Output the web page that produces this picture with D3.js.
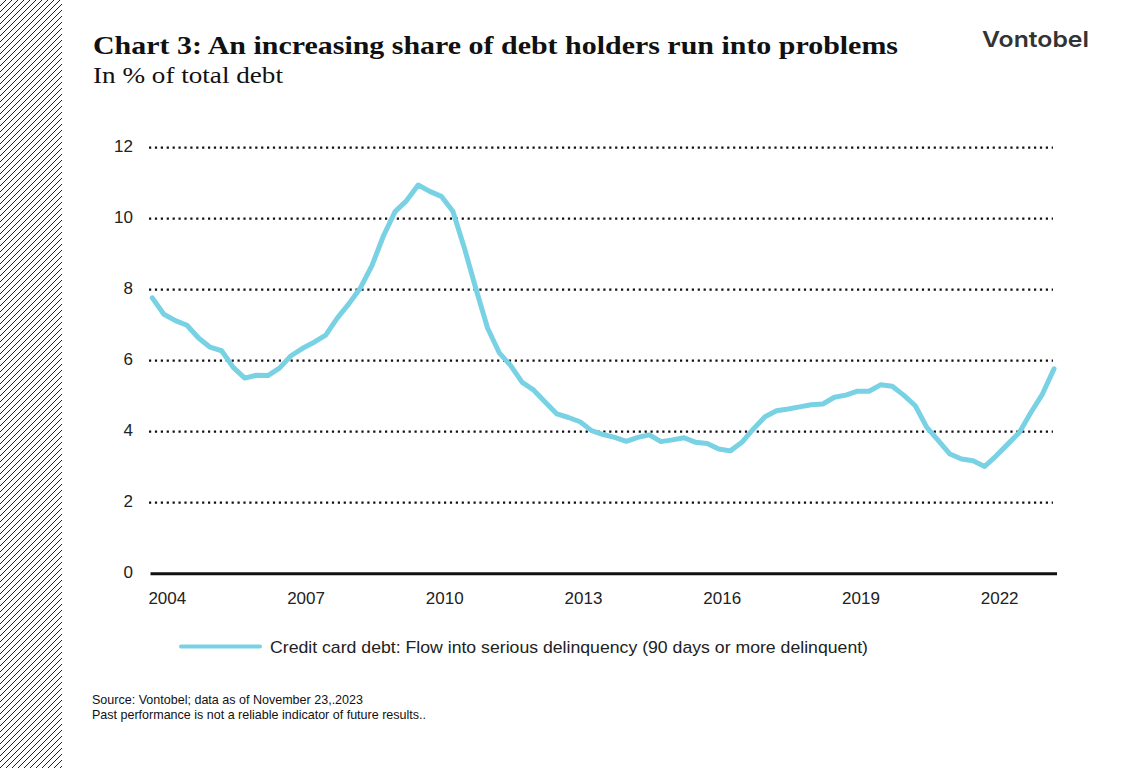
<!DOCTYPE html>
<html>
<head>
<meta charset="utf-8">
<script src="https://cdn.jsdelivr.net/npm/d3@7"></script>
<style>
  body { margin: 0; background: #fff; }
  svg { display: block; }
</style>
</head>
<body>
<div id="chart-area"></div>
<script>
// quarterly values, 2004 Q1 .. 2023 Q3
const startYear = 2004;
const delinquency = [
    7.77, 7.31, 7.13, 7.00, 6.64, 6.38, 6.28, 5.81, 5.51, 5.59,
    5.58, 5.79, 6.14, 6.35, 6.52, 6.72, 7.20, 7.60, 8.05, 8.68,
    9.52, 10.20, 10.51, 10.95, 10.77, 10.63, 10.21, 9.17, 8.02, 6.92,
    6.23, 5.86, 5.39, 5.17, 4.83, 4.50, 4.40, 4.28, 4.03, 3.92,
    3.84, 3.73, 3.84, 3.91, 3.72, 3.77, 3.83, 3.70, 3.67, 3.51,
    3.46, 3.70, 4.08, 4.42, 4.59, 4.64, 4.70, 4.76, 4.78, 4.97,
    5.03, 5.14, 5.14, 5.32, 5.28, 5.03, 4.73, 4.12, 3.75, 3.37,
    3.23, 3.18, 3.02, 3.32, 3.65, 3.98, 4.54, 5.06, 5.77
];
const yearLabels = [2004, 2007, 2010, 2013, 2016, 2019, 2022];
const yTicks = [0, 2, 4, 6, 8, 10, 12];
const seriesName = "Credit card debt: Flow into serious delinquency (90 days or more delinquent)";

const W = 1122, H = 768;
const lineColor = "#78d2e4";

const svg = d3.select("#chart-area").append("svg")
    .attr("width", W)
    .attr("height", H);

svg.append("rect").attr("width", W).attr("height", H).attr("fill", "#fff");

// hatched strip on the left
const defs = svg.append("defs");
const pat = defs.append("pattern")
    .attr("id", "hatch")
    .attr("patternUnits", "userSpaceOnUse")
    .attr("width", 6)
    .attr("height", 6);
pat.append("path")
    .attr("d", "M-1,7 L7,-1 M-1,1 L1,-1 M5,7 L7,5")
    .attr("stroke", "#222")
    .attr("stroke-width", 1);
svg.append("rect")
    .attr("x", 0).attr("y", 0)
    .attr("width", 62).attr("height", H)
    .attr("fill", "url(#hatch)");

// titles
svg.append("text")
    .attr("x", 93).attr("y", 54)
    .attr("font-family", "'Liberation Serif', 'DejaVu Serif', serif")
    .attr("font-weight", "bold")
    .attr("font-size", 26)
    .attr("fill", "#111")
    .attr("textLength", 805)
    .attr("lengthAdjust", "spacingAndGlyphs")
    .text("Chart 3: An increasing share of debt holders run into problems");

svg.append("text")
    .attr("x", 93).attr("y", 83)
    .attr("font-family", "'Liberation Serif', 'DejaVu Serif', serif")
    .attr("font-size", 23)
    .attr("fill", "#111")
    .attr("textLength", 190)
    .attr("lengthAdjust", "spacingAndGlyphs")
    .text("In % of total debt");

svg.append("text")
    .attr("x", 982).attr("y", 47)
    .attr("font-family", "Inter, 'Open Sans', sans-serif")
    .attr("font-weight", 600)
    .attr("font-size", 22)
    .attr("fill", "#333")
    .attr("textLength", 107)
    .attr("lengthAdjust", "spacingAndGlyphs")
    .text("Vontobel");

// scales
const x = d3.scaleLinear()
    .domain([0, delinquency.length - 1])
    .range([152.3, 1054]);

const y = d3.scaleLinear()
    .domain([0, 12])
    .range([573.7, 147.7]);

// dotted gridlines
svg.selectAll(".grid")
    .data(yTicks.filter((d) => d > 0))
    .enter()
    .append("line")
    .attr("class", "grid")
    .attr("x1", 149)
    .attr("x2", 1053)
    .attr("y1", (d) => y(d))
    .attr("y2", (d) => y(d))
    .attr("stroke", "#111")
    .attr("stroke-width", 2.2)
    .attr("stroke-dasharray", "2.2,3.7");

// y labels
svg.selectAll(".ylab")
    .data(yTicks)
    .enter()
    .append("text")
    .attr("class", "ylab")
    .attr("x", 133)
    .attr("y", (d) => y(d) - 2)
    .attr("dy", "0.35em")
    .attr("text-anchor", "end")
    .attr("font-family", "'Liberation Sans', Arial, sans-serif")
    .attr("font-size", 17)
    .attr("fill", "#222")
    .text((d) => d);

// baseline
svg.append("line")
    .attr("x1", 150.5)
    .attr("x2", 1057)
    .attr("y1", y(0))
    .attr("y2", y(0))
    .attr("stroke", "#111")
    .attr("stroke-width", 3);

// year labels, centred on each year's quarters
svg.selectAll(".xlab")
    .data(yearLabels)
    .enter()
    .append("text")
    .attr("class", "xlab")
    .attr("x", (d) => x((d - startYear) * 4 + 1.3))
    .attr("y", 603.5)
    .attr("text-anchor", "middle")
    .attr("font-family", "'Liberation Sans', Arial, sans-serif")
    .attr("font-size", 17)
    .attr("fill", "#222")
    .text((d) => d);

// the series
const line = d3.line()
    .x((d, i) => x(i))
    .y((d) => y(d));

svg.append("path")
    .datum(delinquency)
    .attr("d", line)
    .attr("fill", "none")
    .attr("stroke", lineColor)
    .attr("stroke-width", 5)
    .attr("stroke-linejoin", "round")
    .attr("stroke-linecap", "round");

// legend
svg.append("line")
    .attr("x1", 181).attr("x2", 260)
    .attr("y1", 646.5).attr("y2", 646.5)
    .attr("stroke", lineColor)
    .attr("stroke-width", 4)
    .attr("stroke-linecap", "round");

svg.append("text")
    .attr("x", 270).attr("y", 652.5)
    .attr("font-family", "'Liberation Sans', Arial, sans-serif")
    .attr("font-size", 17)
    .attr("fill", "#222")
    .attr("textLength", 598)
    .attr("lengthAdjust", "spacingAndGlyphs")
    .text(seriesName);

// footer
svg.append("text")
    .attr("x", 92).attr("y", 704)
    .attr("font-family", "'Liberation Sans Narrow', 'Liberation Sans', Arial, sans-serif")
    .attr("font-size", 13)
    .attr("fill", "#111")
    .attr("textLength", 271)
    .attr("lengthAdjust", "spacingAndGlyphs")
    .text("Source: Vontobel; data as of November 23,.2023");

svg.append("text")
    .attr("x", 92).attr("y", 719)
    .attr("font-family", "'Liberation Sans Narrow', 'Liberation Sans', Arial, sans-serif")
    .attr("font-size", 13)
    .attr("fill", "#111")
    .attr("textLength", 334)
    .attr("lengthAdjust", "spacingAndGlyphs")
    .text("Past performance is not a reliable indicator of future results..");
</script>
</body>
</html>
